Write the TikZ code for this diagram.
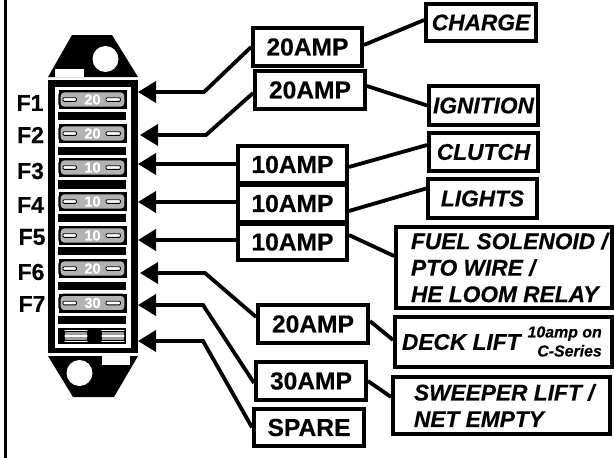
\documentclass[tikz,border=0pt]{standalone}
\usepackage{fontspec}
\setmainfont{Liberation Sans}[BoldFeatures={FakeBold=0.35},BoldItalicFeatures={FakeBold=0.35}]
\usetikzlibrary{arrows.meta}
\tikzset{
  x=1pt,y=-1pt,
  framebox/.style 2 args={draw=black,line width=3.8pt,fill=white,inner sep=0pt,minimum width=#1,minimum height=#2,text=black},
  amp/.style={font=\fontsize{24.6}{28}\selectfont\bfseries},
  func/.style={font=\fontsize{22.7}{26.5}\selectfont\bfseries\itshape},
  multi/.style={func,align=flush left,text width=#1},
  conn/.style={draw=black,line width=3.8pt,line join=miter},
  tipconn/.style={conn,-{Triangle[length=18pt,width=21pt]}},
  fl/.style={font=\fontsize{23}{25}\selectfont\bfseries,inner sep=0pt},
  fuse/.style={draw=black,line width=2.4pt,fill=fusegrey,rounded corners=4pt,minimum width=66pt,minimum height=16.5pt,inner sep=0pt,text=white,font=\fontsize{14.5}{15}\selectfont\bfseries},
  bar/.style={fill=black},
  slot/.style={draw=black,line width=0.9pt,fill=white,rounded corners=1pt},
}
\definecolor{fusegrey}{gray}{0.70}
\begin{document}
\begin{tikzpicture}
\useasboundingbox (0,0) rectangle (614,458);
\fill[white] (0,0) rectangle (614,458);
\draw[line width=3pt] (5.5,0) -- (5.5,458);

% fuse block
\fill (72,35) -- (112,35) -- (138,77) -- (48,77) -- cycle;
\fill[white] (105.5,59) circle (13);
\fill[white] (55,69) -- (84,69) -- (84,77) -- (55,77) -- cycle;
\fill (48,80) rectangle (138,353);
\fill[white] (54.5,87) rectangle (131,348);
\fill (48,356) -- (138,356) -- (114,397) -- (73,397) -- cycle;
\fill[white] (79.5,373) circle (13);
\fill[white] (102,356) rectangle (130,365);

\foreach \a/\b in {112/120,147/155,180/189,214/222,247/255,282/290,316/324}
  \fill[bar] (58,\a) rectangle (126,\b);

\foreach \n/\yy/\amps in {1/99.5/20,2/133.5/20,3/167.5/10,4/201.5/10,5/235.5/10,6/268.5/20,7/303/30}{
  \fill (58.5,\yy-9.5) rectangle (126.5,\yy+9.5);
  \node[fuse] (f\n) at (92.5,\yy) {\amps};
  \fill[slot] (63,\yy-1.8) rectangle (76.5,\yy+1.8);
  \fill[slot] (106,\yy-1.8) rectangle (120.5,\yy+1.8);
}
% spare slot
\fill (58,328) rectangle (126,344);
\foreach \xa/\xb in {65/87,102/124}{
  \fill[gray!75] (\xa,332.4) rectangle (\xb,334.8);
  \fill[gray!75] (\xa,337.2) rectangle (\xb,339.6);
  \foreach \yy in {330.8,336,341.2}
    \draw[white,line width=1.3pt,line cap=round] (\xa,\yy) -- (\xb,\yy);
}

% F labels
\node[fl] (F1) at (30,103) {F1};
\node[fl] (F2) at (30.5,135) {F2};
\node[fl] (F3) at (30.5,171) {F3};
\node[fl] (F4) at (30.5,205) {F4};
\node[fl] (F5) at (32,237) {F5};
\node[fl] (F6) at (31,272) {F6};
\node[fl] (F7) at (32,304) {F7};

% amp boxes
\node[framebox={109pt}{38pt},amp] (b1) at (307.5,47) {20AMP};
\node[framebox={110pt}{38pt},amp] (b2) at (310,90) {20AMP};
\node[framebox={109pt}{37pt},amp] (b3) at (292.5,164.5) {10AMP};
\node[framebox={109pt}{37pt},amp] (b4) at (292.5,203.5) {10AMP};
\node[framebox={109pt}{36pt},amp] (b5) at (292.5,242) {10AMP};
\node[framebox={110pt}{38pt},amp] (b6) at (313,324) {20AMP};
\node[framebox={110pt}{38pt},amp] (b7) at (311,381) {30AMP};
\node[framebox={110pt}{37pt},amp] (b8) at (309,427.5) {SPARE};

% function boxes
\node[framebox={110pt}{37pt},func] (charge) at (481,22.5) {CHARGE};
\node[framebox={109pt}{39pt},func] (ign) at (483.5,105.5) {IGNITION};
\node[framebox={109pt}{38pt},func] (clutch) at (483.5,152) {CLUTCH};
\node[framebox={109pt}{39pt},func] (lights) at (482.5,198.5) {LIGHTS};
\node[framebox={216pt}{81pt},multi=216pt] (fuel) at (504,267.5) {\hspace*{15pt}FUEL SOLENOID /\\\hspace*{15pt}PTO WIRE /\\\hspace*{15pt}HE LOOM RELAY};
\node[framebox={217pt}{50pt},multi=217pt] (deck) at (503.5,342) {\hspace*{7pt}DECK LIFT};
\node[framebox={217pt}{57pt},multi=217pt] (sweep) at (501.5,405.5) {\hspace*{21pt}SWEEPER LIFT /\\\hspace*{21pt}NET EMPTY};
\node[anchor=east,inner sep=0pt,align=right,font=\fontsize{15.9}{19}\selectfont\bfseries\itshape] (note) at (602,341.5) {10amp on\\C-Series};

% arrow targets
\coordinate (t1) at (138,92);
\coordinate (t2) at (140,135);
\coordinate (t3) at (138,164);
\coordinate (t4) at (138,202);
\coordinate (t5) at (138,240);
\coordinate (t6) at (140,273);
\coordinate (t7) at (138,305);
\coordinate (t8) at (138,341);
\coordinate (k1) at (204,92);
\coordinate (k2) at (206,135);
\coordinate (k6) at (205,273);
\coordinate (k7) at (203,305);
\coordinate (k8) at (203,341);

\draw[tipconn] (b1.west) -- (k1) -- (t1);
\draw[tipconn] ([yshift=-3pt]b2.west) -- (k2) -- (t2);
\draw[tipconn] (b3.west |- t3) -- (t3);
\draw[tipconn] (b4.west |- t4) -- (t4);
\draw[tipconn] (b5.west |- t5) -- (t5);
\draw[tipconn] ([yshift=7pt]b6.west) -- (k6) -- (t6);
\draw[tipconn] ([yshift=-2pt]b7.west) -- (k7) -- (t7);
\draw[tipconn] (b8.west) -- (k8) -- (t8);

\draw[conn] ([yshift=2pt]b1.east) -- ([yshift=2.5pt]charge.west);
\draw[conn] ([yshift=4pt]b2.east) -- (ign.west);
\draw[conn] ([yshift=-2.5pt]b3.east) -- ([yshift=7pt]clutch.west);
\draw[conn] ([yshift=-7.5pt]b4.east) -- ([yshift=10pt]lights.west);
\draw[conn] ([yshift=7pt]b5.east) -- ([yshift=11.5pt]fuel.west);
\draw[conn] ([yshift=3pt]b6.east) -- ([yshift=2pt]deck.west);
\draw[conn] (b7.east) -- ([yshift=8.5pt]sweep.west);
\end{tikzpicture}
\end{document}
